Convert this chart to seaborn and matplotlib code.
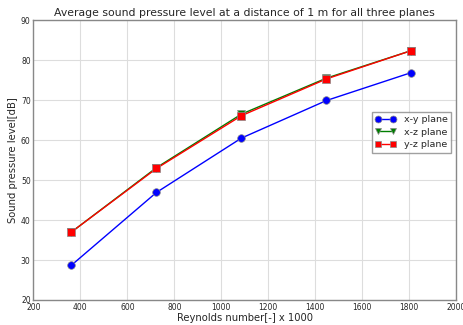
import matplotlib
matplotlib.use("Agg")
import matplotlib.pyplot as plt
import seaborn as sns
import pandas as pd

# data
reynolds = [362, 724, 1086, 1448, 1810]
spl_xy = [28.7, 46.9, 60.5, 69.9, 76.9]
spl_xz = [37.0, 53.1, 66.5, 75.5, 82.4]
spl_yz = [37.0, 52.9, 66.1, 75.3, 82.4]
planes = ["x-y plane", "x-z plane", "y-z plane"]

df = pd.DataFrame({
    "Re": reynolds * 3,
    "SPL": spl_xy + spl_xz + spl_yz,
    "plane": [p for p in planes for _ in reynolds],
})

sns.set_style("whitegrid")
plt.rcParams["font.family"] = ["DejaVu Sans"]

fig, ax = plt.subplots(figsize=(4.64, 3.25), dpi=100)
sns.lineplot(data=df, x="Re", y="SPL", hue="plane", style="plane",
             palette=["#0000ff", "#007f00", "#ff0000"],
             markers=["o", "v", "s"], dashes=False, markersize=5.5,
             linewidth=1, markeredgewidth=0.5, markeredgecolor="#888888", ax=ax)

ax.set_xlim(200, 2000)
ax.set_ylim(20, 90)
ax.set_xticks(range(200, 2001, 200))
ax.set_yticks(range(20, 91, 10))
ax.set_title("Average sound pressure level at a distance of 1 m for all three planes",
             fontsize=7.8, pad=3)
ax.set_xlabel("Reynolds number[-] x 1000", fontsize=7.2, labelpad=1)
ax.set_ylabel("Sound pressure level[dB]", fontsize=7.2, labelpad=2)
ax.tick_params(labelsize=5.5, length=0, pad=2)
ax.grid(color="#dddddd", linewidth=0.8)
for sp in ax.spines.values():
    sp.set_color("#888888")
    sp.set_linewidth(1)

leg = ax.legend(loc="upper right", bbox_to_anchor=(1.0, 0.69), fontsize=6.8,
                frameon=True, fancybox=False, numpoints=2, handlelength=2.2,
                borderpad=0.4, labelspacing=0.35)
leg.get_frame().set_edgecolor("#888888")
for h in leg.legend_handles:
    h.set_markersize(5)
    h.set_linewidth(1)
    h.set_markeredgewidth(0.5)

fig.subplots_adjust(left=0.072, right=0.983, top=0.938, bottom=0.077)
fig.savefig("out.png", dpi=100)
